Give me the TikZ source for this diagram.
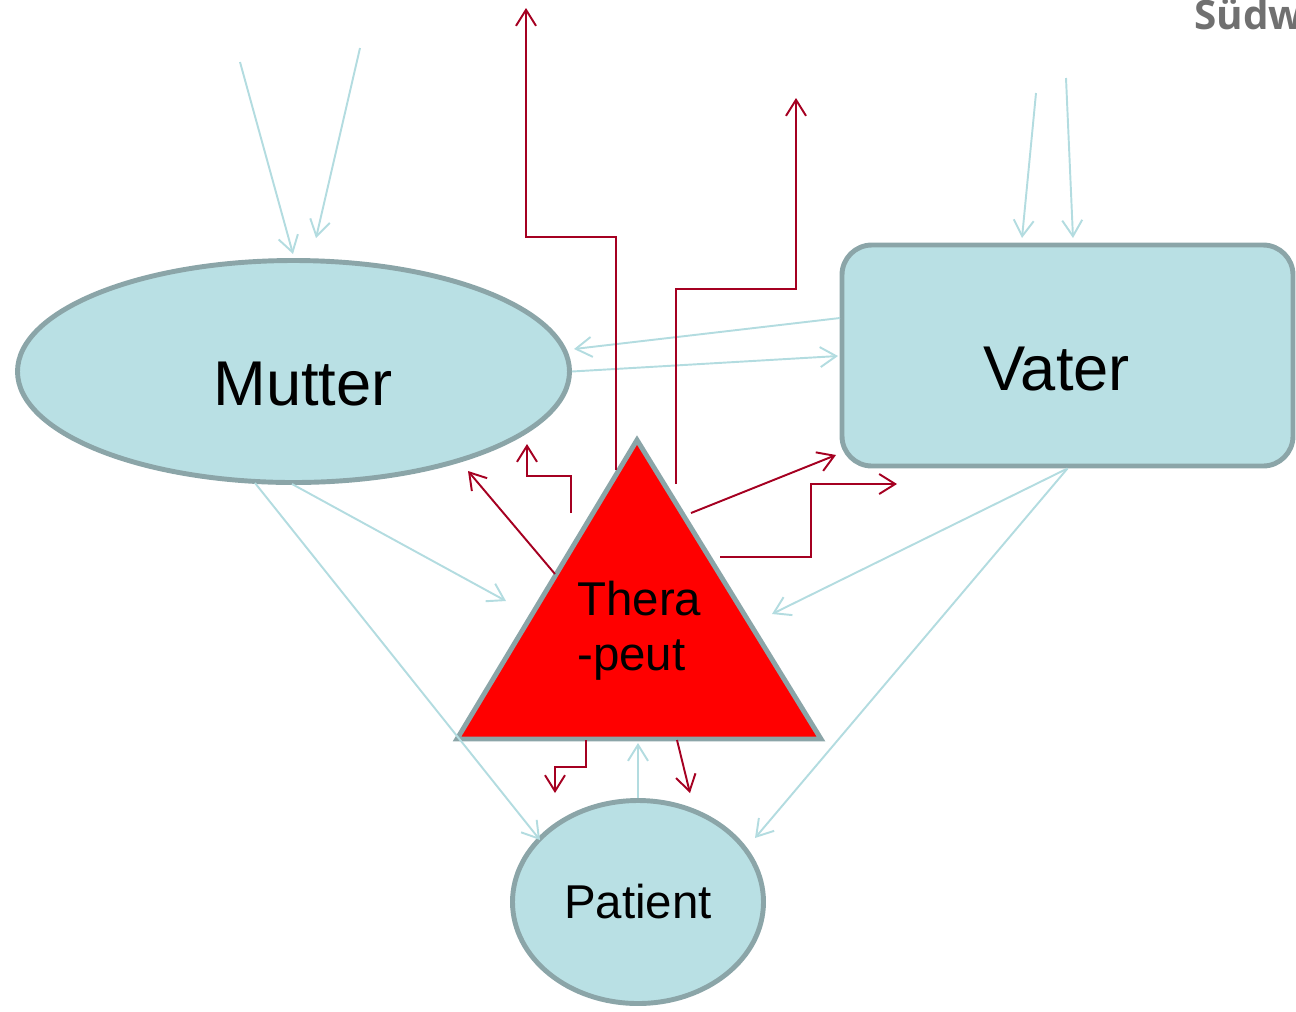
\documentclass[tikz,border=0pt]{standalone}
\usepackage{fontspec}
\setmainfont{Liberation Sans}
\newfontfamily\logofont{Open Sans}
\usetikzlibrary{arrows.meta, positioning, shapes.geometric, calc}
\definecolor{famfill}{HTML}{B9E0E4}
\definecolor{famline}{HTML}{8BA5A8}
\definecolor{famarrow}{HTML}{B3DCE0}
\definecolor{therarrow}{HTML}{A50021}
\definecolor{logogray}{HTML}{707070}
\tikzset{
  pers/.style={ellipse,draw=famline,fill=famfill,line width=2.8pt,inner sep=0pt},
  persbox/.style={rectangle,rounded corners=17pt,draw=famline,fill=famfill,
    line width=2.8pt,inner sep=0pt},
  biglbl/.style={font=\fontsize{36}{40}\selectfont,inner sep=0pt,anchor=base west},
  blu/.style={-{Straight Barb[length=3.2mm,width=4mm]},draw=famarrow,line width=1.1pt},
  tarr/.style={-{Straight Barb[length=3.2mm,width=4mm]},draw=therarrow,line width=1.1pt}
}
\begin{document}
\begin{tikzpicture}
\useasboundingbox (0,0) rectangle (25.92,-20.22);
% family
\node[pers,minimum width=11.04cm,minimum height=4.44cm] (mutter) at (5.87,-7.43) {};
\node[persbox,minimum width=9.02cm,minimum height=4.42cm] (vater) at (21.35,-7.11) {};
\node[pers,minimum width=5.02cm,minimum height=4.06cm,font=\fontsize{27}{31}\selectfont] (patient) at (12.76,-18.04) {Patient};
\node[biglbl] (mlbl) at (4.26,-8.10) {Mutter};
\node[biglbl] (vlbl) at (19.66,-7.80) {Vater};
% therapist
\coordinate (tapex) at (12.74,-8.80);
\coordinate (tleft) at (9.14,-14.78);
\coordinate (tright) at (16.42,-14.78);
\filldraw[fill=red,draw=famline,line width=2.8pt] (tapex) -- (tright) -- (tleft) -- cycle;
\node[anchor=base west,align=left,inner sep=0pt,font=\fontsize{27}{31}\selectfont] (ther) at (11.54,-13.40) {Thera\\-peut};
\node[anchor=base west,inner sep=0pt,text=logogray,font=\logofont\bfseries\fontsize{23}{23}\selectfont] (logo) at (23.88,-0.58) {Südw};

% free ends
\coordinate (m1a) at (4.80,-1.24);  \coordinate (m1b) at (5.86,-5.08);
\coordinate (m2a) at (7.20,-0.96);  \coordinate (m2b) at (6.32,-4.76);
\coordinate (v1a) at (20.72,-1.86); \coordinate (v1b) at (20.44,-4.76);
\coordinate (v2a) at (21.32,-1.56); \coordinate (v2b) at (21.46,-4.76);
\coordinate (vm) at (16.80,-6.36);  \coordinate (mv) at (11.48,-6.98);
\coordinate (vt) at (16.76,-7.12);
\coordinate (m3) at (5.10,-9.66);   \coordinate (p1) at (10.80,-16.80);
\coordinate (m4) at (5.84,-9.68);   \coordinate (t1) at (10.12,-12.02);
\coordinate (t2) at (15.44,-12.28); \coordinate (p2) at (15.10,-16.76);
\coordinate (t3) at (12.76,-14.86);

\draw[blu] (m1a) -- (m1b);
\draw[blu] (m2a) -- (m2b);
\draw[blu] (v1a) -- (v1b);
\draw[blu] (v2a) -- (v2b);
\draw[blu] (vm) -- (mv);
\draw[blu] (mutter.east) -- (vt);
\draw[blu] (m3) -- (p1);
\draw[blu] (m4) -- (t1);
\draw[blu] (vater.south) -- (t2);
\draw[blu] (vater.south) -- (p2);
\draw[blu] (patient.north) -- (t3);

% therapist outputs
\coordinate (r1) at (12.32,-9.40); \coordinate (r1e) at (10.52,-0.16);
\coordinate (r2) at (13.52,-9.68); \coordinate (r2e) at (15.92,-1.96);
\coordinate (r3) at (11.42,-10.26); \coordinate (r3e) at (10.54,-8.88);
\coordinate (r4) at (11.10,-11.48); \coordinate (r4e) at (9.36,-9.42);
\coordinate (r5) at (13.82,-10.26); \coordinate (r5e) at (16.72,-9.10);
\coordinate (r6) at (14.40,-11.14); \coordinate (r6e) at (17.94,-9.68);
\coordinate (r7) at (11.72,-14.80); \coordinate (r7e) at (11.10,-15.86);
\coordinate (r8) at (13.54,-14.80); \coordinate (r8e) at (13.80,-15.86);

\draw[tarr] (r1) -- (12.32,-4.74) -| (r1e);
\draw[tarr] (r2) -- (13.52,-5.78) -| (r2e);
\draw[tarr] (r3) -- (11.42,-9.52) -| (r3e);
\draw[tarr] (r4) -- (r4e);
\draw[tarr] (r5) -- (r5e);
\draw[tarr] (r6) -- (16.22,-11.14) |- (r6e);
\draw[tarr] (r7) -- (11.72,-15.34) -| (r7e);
\draw[tarr] (r8) -- (r8e);
\end{tikzpicture}
\end{document}
